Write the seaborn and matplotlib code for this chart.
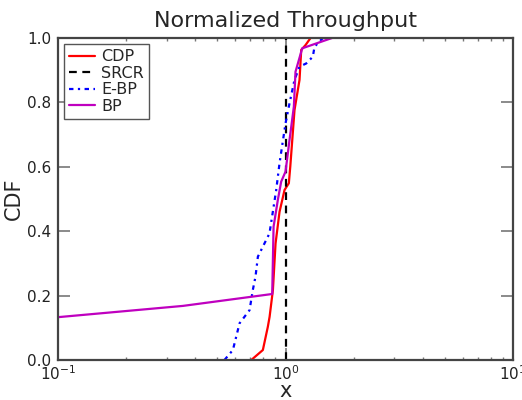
import numpy as np
import pandas as pd
import matplotlib
matplotlib.use('Agg')
import matplotlib.pyplot as plt
import seaborn as sns

# --- data ---
cdp_x = [0.707, 0.795, 0.836, 0.851, 0.88, 0.904, 0.941, 0.99, 1.034, 1.049, 1.095, 1.12, 1.152, 1.172, 1.224, 1.288]
cdp_y = [0.0, 0.031, 0.103, 0.134, 0.217, 0.362, 0.46, 0.528, 0.549, 0.60, 0.776, 0.818, 0.87, 0.963, 0.978, 1.0]

srcr_x = [1.0, 1.0]
srcr_y = [0.0, 1.0]

ebp_x = [0.539, 0.587, 0.628, 0.695, 0.718, 0.738, 0.756, 0.795, 0.85, 0.91, 0.941, 1.0, 1.041, 1.095, 1.152, 1.233, 1.318, 1.341, 1.459]
ebp_y = [0.0, 0.031, 0.114, 0.155, 0.217, 0.259, 0.321, 0.352, 0.393, 0.528, 0.611, 0.735, 0.797, 0.87, 0.911, 0.921, 0.942, 0.973, 1.0]

bp_x = [0.1, 0.354, 0.874, 0.886, 0.925, 0.957, 1.0, 1.041, 1.088, 1.106, 1.184, 1.6]
bp_y = [0.133, 0.168, 0.205, 0.414, 0.497, 0.554, 0.585, 0.683, 0.787, 0.895, 0.968, 1.0]

series = [
    ('CDP', cdp_x, cdp_y, 'red', '-'),
    ('SRCR', srcr_x, srcr_y, 'black', (0, (3.5, 2.5))),
    ('E-BP', ebp_x, ebp_y, 'blue', (0, (2, 2, 1, 2))),
    ('BP', bp_x, bp_y, '#bf00bf', '-'),
]

sns.set_style('ticks')
plt.rcParams['font.family'] = ['DejaVu Sans']
plt.rcParams['xtick.direction'] = 'in'
plt.rcParams['ytick.direction'] = 'in'

fig = plt.figure(figsize=(5.22, 4.0), dpi=100)
ax = fig.add_axes([0.111, 0.1, 0.872, 0.805])

for name, xs, ys, col, ls in series:
    df = pd.DataFrame({'x': xs, 'y': ys})
    sns.lineplot(data=df, x='x', y='y', ax=ax, color=col, linestyle=ls,
                 linewidth=1.6, label=name, estimator=None, sort=False)

ax.set_xscale('log')
ax.set_xlim(0.1, 10)
ax.set_ylim(0, 1)
ax.set_yticks([0.0, 0.2, 0.4, 0.6, 0.8, 1.0])
ax.set_yticklabels(['0.0', '0.2', '0.4', '0.6', '0.8', '1.0'])
ax.tick_params(which='both', top=True, right=True, labelsize=11,
               color='#777777', labelcolor='#222222')
ax.tick_params(which='major', length=8.5, width=1.2)
ax.tick_params(which='minor', length=2.5, width=1)
ax.tick_params(axis='y', which='major', pad=5)
ax.tick_params(axis='x', which='major', pad=3)
for sp in ax.spines.values():
    sp.set_color('#444444')
    sp.set_linewidth(1.6)

ax.set_title('Normalized Throughput', fontsize=16, pad=8)
ax.set_xlabel('x', fontsize=15, labelpad=-1)
ax.set_ylabel('CDF', fontsize=15, labelpad=2)

leg = ax.legend(loc='upper left', fontsize=11.5, fancybox=False, framealpha=1,
                edgecolor='#555555', handlelength=1.6, handletextpad=0.4,
                borderpad=0.3, labelspacing=0.1, borderaxespad=0.4)
leg.get_frame().set_linewidth(1.0)

fig.savefig('out.png', dpi=100)
